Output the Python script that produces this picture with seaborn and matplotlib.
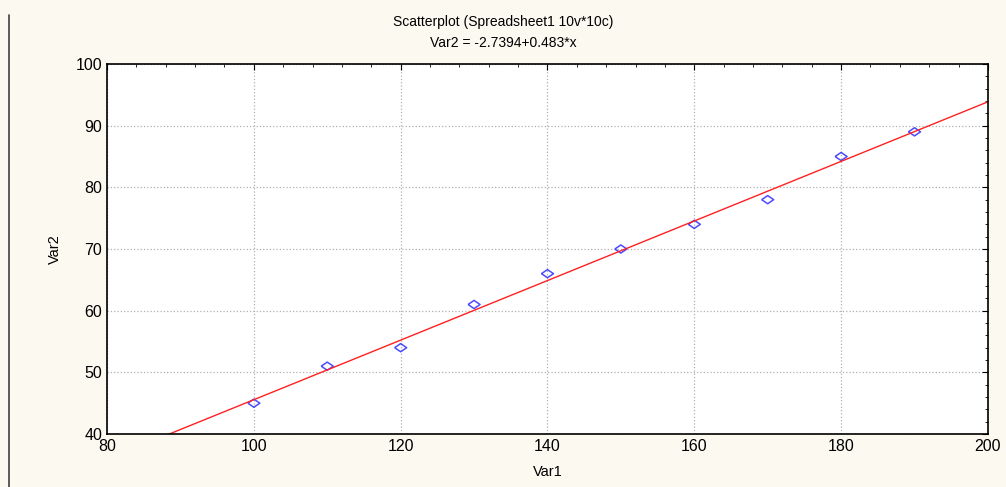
import numpy as np
import pandas as pd
import seaborn as sns
import matplotlib.pyplot as plt
from matplotlib.lines import Line2D
from matplotlib.ticker import MultipleLocator

# values
var1 = [100, 110, 120, 130, 140, 150, 160, 170, 180, 190]
var2 = [45, 51, 54, 61, 66, 70, 74, 78, 85, 89]
x_ticks = [80, 100, 120, 140, 160, 180, 200]
y_ticks = [40, 50, 60, 70, 80, 90, 100]

df = pd.DataFrame({'Var1': var1, 'Var2': var2})

sns.set_style('white')
plt.rcParams['font.family'] = ['Liberation Sans', 'DejaVu Sans']
plt.rcParams['text.color'] = 'black'
plt.rcParams['axes.labelcolor'] = 'black'

fig = plt.figure(figsize=(10.06, 4.87), dpi=100, facecolor='#fcf9f0')
ax = fig.add_axes([0.1064, 0.1088, 0.8756, 0.7598])
ax.set_facecolor('white')
ax.set_xlim(80, 200)
ax.set_ylim(40, 100)

# wide flat diamond like the original
wide_diamond = [(-1.4, 0), (0, 0.95), (1.4, 0), (0, -0.95), (-1.4, 0)]

sns.regplot(data=df, x='Var1', y='Var2', ax=ax, ci=None, truncate=False,
            marker=wide_diamond,
            scatter_kws=dict(s=75, facecolors='none', edgecolors='#2020ff', linewidths=1.1),
            line_kws=dict(color='#ff2020', lw=1.0))

ax.set_xticks(x_ticks)
ax.set_yticks(y_ticks)
ax.xaxis.set_minor_locator(MultipleLocator(4))
ax.yaxis.set_minor_locator(MultipleLocator(2))
ax.tick_params(which='both', direction='in', top=True, right=True,
               labelsize=11.5, color='black', labelcolor='black')
ax.tick_params(which='major', length=4)
ax.tick_params(which='minor', length=2)
ax.grid(True, which='major', linestyle=':', color='#b0b0b0', lw=0.9)
for s in ax.spines.values():
    s.set_color('black')
    s.set_linewidth(1.2)

ax.set_xlabel('Var1', fontsize=10.5, labelpad=8)
ax.set_ylabel('Var2', fontsize=10.5, labelpad=10)
fig.text(0.5, 0.955, 'Scatterplot (Spreadsheet1 10v*10c)', ha='center', va='center', fontsize=10)
fig.text(0.5, 0.912, 'Var2 = -2.7394+0.483*x', ha='center', va='center', fontsize=10)

# left frame edge as in the screenshot
fig.add_artist(Line2D([0.009, 0.009], [0.0, 0.97], color='#404040', lw=1.2))

fig.savefig('out.png', dpi=100, facecolor=fig.get_facecolor())
